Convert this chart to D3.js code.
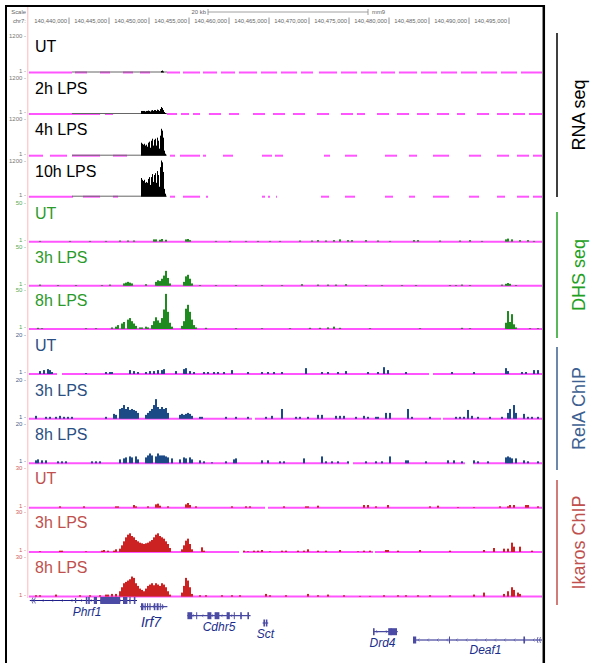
<!DOCTYPE html>
<html><head><meta charset="utf-8">
<script src="https://cdn.jsdelivr.net/npm/d3@7"></script>
<style>body{margin:0;background:#fff}svg{display:block}</style>
</head><body>
<script>
// ---------------- DATA ----------------
// genomic positions are kb offsets from chr7:140,435,000
const chromStart = 140435000;
const viewEndKb = 64.125;
const coordTicks = [140440000,140445000,140450000,140455000,140460000,140465000,140470000,140475000,140480000,140485000,140490000,140495000];
const scaleBarKb = 20;
const scaleBarStartKb = 22.375;

const trackLabels = ["UT","2h LPS","4h LPS","10h LPS","UT","3h LPS","8h LPS","UT","3h LPS","8h LPS","UT","3h LPS","8h LPS"];
const trackGroups = ["rna","rna","rna","rna","dhs","dhs","dhs","rela","rela","rela","ik","ik","ik"];
const groupNames = ["RNA seq","DHS seq","RelA ChIP","Ikaros ChIP"];
const groupMax = {rna:1200, dhs:50, rela:20, ik:30};
const groupBinKb = {rna:0.125, dhs:0.25, rela:0.25, ik:0.25};

// RNA-seq signal [kbOffset, value]
const rnaUT  = [[16.5,50],[16.625,65],[16.75,33]];
const rna2h  = [[14.0,100],[14.125,100],[14.25,100],[14.375,100],[14.5,80],[14.625,100],[14.75,100],[14.875,115],[15.0,100],[15.125,80],[15.25,115],[15.375,130],[15.5,100],[15.625,130],[15.75,130],[15.875,100],[16.0,145],[16.125,130],[16.25,100],[16.375,165],[16.5,230],[16.625,195],[16.75,130],[16.875,65],[17.0,33]];
const rna4h  = [[14.0,425],[14.125,390],[14.25,360],[14.375,390],[14.5,330],[14.625,360],[14.75,295],[14.875,425],[15.0,460],[15.125,260],[15.25,490],[15.375,555],[15.5,330],[15.625,520],[15.75,555],[15.875,330],[16.0,590],[16.125,490],[16.25,230],[16.375,655],[16.5,880],[16.625,820],[16.75,590],[16.875,165],[17.0,65]];
const rna10h = [[14.0,620],[14.125,560],[14.25,520],[14.375,560],[14.5,460],[14.625,490],[14.75,460],[14.875,590],[15.0,650],[15.125,390],[15.25,650],[15.375,750],[15.5,490],[15.625,720],[15.75,780],[15.875,460],[16.0,850],[16.125,720],[16.25,330],[16.375,980],[16.5,1200],[16.625,1140],[16.75,820],[16.875,260],[17.0,100]];
// low-coverage stretch shown as thin grey line
const rnaLow = [[5.375,17.25]];
// magenta baseline pieces of the RNA tracks
const rnaUTPink  = [[0,5.375],[5.75,7.25],[8.875,10.125],[11.75,13],[13.875,15.125],[17.25,18.875],[19.25,21.375],[21.75,23.5],[24,25.75],[26.25,28.5],[29,31],[31.5,33.5],[34,35.5],[36.25,38.5],[39,41],[41.5,43.5],[44,45.75],[46.25,48.5],[49,51],[51.5,53.5],[54,56],[56.5,58.5],[59,61],[61.5,64.125]];
const rna2hPink  = [[0,8.875],[9.5,10.5],[17.25,18.5],[19,20],[20.5,21.375],[22.5,24],[25,26.25],[28,29.5],[30.5,32],[33,34.5],[36,37.5],[39,40.5],[41,42],[43.5,45],[46,47.5],[48.5,50],[51,52.5],[53.5,54.5],[56,57.5],[58.5,60],[60.5,62],[62.5,64.125]];
const rna4hPink  = [[0,1.75],[2.625,4.75],[5.375,8.875],[10.5,12.25],[17.625,18.25],[18.875,21.375],[21.75,22.125],[24.25,25.5],[29.125,30.375],[30.75,31.75],[36.875,37.625],[39.5,41],[44.5,46],[47.5,48.5],[50.5,52.5],[55,56.5],[58.5,60],[61,62.5],[63,64.125]];
const rna10hPink = [[0,5.5],[6.75,8.875],[10.5,11.125],[17.625,18.25],[19.25,21.375],[22.125,22.375],[29.125,29.5],[29.875,30.125],[30.875,31.0],[36.5,37.5],[39.5,40.75],[44.5,45.5],[47.5,48.25],[50.5,52.5],[55,56.25],[58.5,59.5],[61,62.5],[63,64.125]];

// DHS-seq
const dhsUT = [[1.25,1],[5,1],[7.5,1],[9.5,1],[11.25,1.5],[12.25,1.5],[13,1.5],[15.5,3],[15.75,3],[16.25,2.5],[16.5,3.5],[17,2.5],[19.5,3],[19.75,3.5],[20,2],[23.25,1],[25,1],[27,1],[28.5,1],[30,1],[31.25,1],[33.75,1.5],[35.25,1.5],[36,2],[37,1.5],[38,2],[38.75,3],[39.75,2],[40.25,2],[42,2],[43.5,1.5],[45,1],[48,2],[48.5,2],[51.25,1.5],[53.75,1.5],[55,2],[56.5,1],[59.5,3],[59.75,4],[60.25,3],[61.25,2],[62.25,2],[63,1]];
const dhs3h = [[1.25,1.5],[3.5,1],[5.75,1],[9,1],[10,1.5],[11.75,3],[12,4],[12.25,5],[12.5,4],[12.75,3],[14.5,2],[15.75,5],[16,7],[16.25,6],[16.5,9],[16.75,13],[17,19],[17.25,10],[17.5,3],[19.25,5],[19.5,12],[19.75,14],[20,9],[20.25,3],[21.25,1],[23.25,1],[25.75,1],[29,1],[31.5,1],[34,2],[36,1.5],[37.25,1.5],[38.25,1.5],[39.5,2],[42,1],[44,1],[46.5,1],[48.25,1],[52.5,1],[53.25,1],[54,1.5],[55,1],[59,1.5],[59.5,2.5],[59.75,3.5],[60,2.5],[60.75,1]];
const dhs8h = [[1.0,1.5],[1.5,1],[7,1],[8.25,1],[10.25,2],[10.75,3],[11.0,5],[11.5,7],[11.75,9],[12.25,12],[12.5,14],[12.75,10],[13,7],[13.25,4],[13.75,2],[14.0,2],[14.5,3],[14.75,2],[15.25,5],[15.5,10],[15.75,15],[16.0,11],[16.25,8],[16.5,14],[16.75,25],[17.0,45],[17.25,22],[17.5,8],[17.75,3],[19.0,4],[19.25,10],[19.5,26],[19.75,31],[20.0,22],[20.25,12],[20.5,5],[20.75,2],[22,1.5],[25.75,1],[29.0,1],[32.5,1],[35.0,1.5],[36.25,1.5],[37.25,2],[38.0,3],[38.75,1.5],[42.5,1],[48.75,1],[54.0,1.5],[55.0,1],[59.5,8],[59.75,23],[60.0,9],[60.25,19],[60.5,6],[60.75,2],[62.5,1],[63.5,1]];

// RelA ChIP
const relaUT = [[1.25,1.5],[1.75,2],[2.25,2.5],[2.5,2],[2.75,1],[7,0.5],[9.5,1],[10,1],[10.25,1],[12.5,2],[13,1.5],[13.5,1],[14.5,1],[15,1.5],[15.5,1.5],[16,2],[16.5,2],[16.75,2.5],[18.25,1.5],[19.25,2.5],[19.5,3],[20,1.5],[20.5,1],[21.75,1],[22.25,1],[23,1],[23.5,1],[24.25,1],[25.25,2],[27.25,1],[29,1],[29.75,1],[30.5,1],[31.5,1],[34.5,3],[36.5,1],[37.25,1],[38.5,1],[39.5,1.5],[42.25,1],[43.5,1],[44.25,3.5],[44.75,2],[47,1],[52.75,1],[55.5,1],[59.5,3],[59.75,1.5],[61.5,1],[62,1],[63,2],[63.5,2]];
const rela3h = [[0.75,1.5],[2,1],[2.5,1],[3.25,1],[3.75,1.5],[4.25,1],[4.75,1],[5.25,1],[9.5,1],[10.5,2.5],[10.75,2],[11.25,5],[11.5,5.5],[11.75,7],[12,5],[12.25,6],[12.5,4.5],[12.75,5],[13,4.5],[13.25,4],[13.5,3],[14.5,2],[14.75,3],[15,4],[15.25,5],[15.5,7],[15.75,10],[16,6],[16.25,5],[16.5,6],[16.75,5],[17,5.5],[17.25,3],[18.75,2],[19,2.5],[19.25,2],[19.5,2.5],[19.75,3],[20,2.5],[20.25,1.5],[21.25,1],[21.5,1],[24.5,1],[25.75,1],[27.25,1],[29.5,1],[30.25,1.5],[31.5,5],[33.25,1],[33.75,1],[34.75,1],[36,2],[36.5,2],[38.25,1.5],[38.75,1.5],[39.25,1.5],[40.75,1],[41.75,1.5],[42.25,1],[43.25,1],[43.5,1],[44.5,3],[45,3],[47.25,5],[47.75,1],[50,1],[53.25,1],[53.75,1],[54.25,1],[54.75,4.5],[55.25,1.5],[56,1],[57.5,1],[59.0,1],[59.75,3],[60.0,5],[60.5,7],[60.75,3],[61.75,2.5],[62.25,1],[62.75,1],[63.5,1]];
const rela8h = [[0.75,1.5],[1,2],[1.5,1.5],[2,1.5],[3.5,1],[4,1],[4.5,1],[7.75,1],[8.25,1],[8.75,1],[11.25,2],[11.75,2.5],[12,3],[12.5,3.5],[12.75,3],[13.25,3.5],[13.5,2],[14.5,3],[14.75,4],[15,5],[15.25,4],[15.75,3.5],[16,5],[16.25,4],[16.5,4],[16.75,4],[17,3.5],[17.25,3],[17.75,2.5],[18.75,2],[19.25,3],[19.5,2.5],[20,3],[20.25,2],[21.25,1.5],[21.75,1],[22.75,0.5],[24.5,1],[25.5,2],[25.75,2.5],[29,1.5],[29.75,1.5],[31.25,1],[31.75,1],[34.25,2.5],[36.5,3.5],[37,1],[37.75,1],[38.5,1],[39.75,1],[42,1],[43.25,1],[44,1],[45,3.5],[47,1.5],[47.25,1.5],[49.5,1],[52.25,1.5],[53,1.5],[54,1],[55.5,1.5],[56,1],[57.25,1],[59.5,3],[59.75,3.5],[60,3],[60.25,2.5],[60.75,2.5],[61.75,1.5],[62.25,1],[63.5,1]];

// Ikaros ChIP
const ikUT = [[3.75,1],[6.75,1],[10.75,1],[11,1],[13,2],[13.25,1],[14.75,1],[15.75,2.5],[16,3],[16.25,1.5],[17.25,1],[19.5,2.5],[19.75,3.5],[20,2],[20.75,1],[25.25,1],[27,1],[27.5,1],[31.75,1],[34.5,1],[34.75,1],[36,1.5],[41.75,2],[42.25,2],[43.25,1],[44.75,2],[50,1],[51,1.5],[53.5,0.5],[55.5,0.5],[58.75,1],[59.75,1],[60,2],[60.5,2],[62,2],[62.25,2],[63.5,1]];
const ik3h = [[1.25,0.5],[3.75,1],[4,1],[7,0.5],[9,1],[9.25,1.5],[9.75,1],[10.5,1],[10.75,2],[11.25,2.5],[11.5,5],[11.75,8],[12,11],[12.25,13],[12.5,14],[12.75,12],[13,11],[13.25,9],[13.5,8],[13.75,7],[14,6.5],[14.25,6],[14.5,6.5],[14.75,7],[15,8],[15.25,9],[15.5,11],[15.75,13],[16,14],[16.25,12],[16.5,11],[16.75,10],[17,8],[17.25,6],[17.5,3],[19,2],[19.25,5],[19.5,8.5],[19.75,10],[20,6],[20.25,2],[21.5,3.5],[21.75,1],[26.75,1],[27.25,0.5],[28,1],[28.5,1],[29,1.5],[30,0.5],[31.5,1],[32,1],[33.5,1],[34.25,1],[34.75,2],[36,1],[37,1],[38.75,1.5],[41,0.5],[41.75,1],[42.5,1],[44.5,1.5],[44.75,1.5],[46,1],[48.75,1.5],[52.5,1],[56.75,1.5],[58,3],[59.25,2.5],[59.75,2.5],[60.25,7],[60.5,4],[61.25,4],[62.75,1]];
const ik8h = [[0.75,1],[1.25,1],[3.25,1.5],[6.25,1],[7.5,1],[8.75,1],[9.5,1.5],[9.75,1.5],[10.25,2],[10.75,2],[11.25,4],[11.5,7],[11.75,10],[12,11],[12.25,12],[12.5,13],[12.75,15],[13,14],[13.25,10],[13.5,8],[13.75,6],[14,5],[14.25,4],[14.5,6],[14.75,8],[15,9],[15.25,10],[15.5,8.5],[15.75,10],[16,9],[16.25,8],[16.5,10],[16.75,9],[17,7],[17.25,4],[17.5,1.5],[19,3],[19.25,8],[19.5,14],[19.75,12],[20,7],[20.25,2],[21.25,1],[22,1],[24,1],[25.25,1],[26.25,1],[29.5,2],[30,1],[32,1],[34.75,2],[36,1],[37.25,1.5],[39.25,1],[41.25,0.5],[42.5,0.5],[44.25,1],[46,1],[47,1],[48.5,1],[50,1],[52.5,1],[55.5,1.5],[56.75,3],[59.25,2],[59.75,4],[60.25,7],[60.5,5],[61,3],[61.25,2]];

// gaps in the magenta baseline for the DHS / ChIP tracks
const gapsDHS  = [[],[],[]];
const gapsRelA = [[[3.5,4.125],[50,50.5]],[[27.875,28.25],[51.5,51.75]],[[40,40.5],[54.5,55.5]]];
const gapsIk   = [[[29.5,29.875]],[[26.25,26.75],[43,43.25]],[]];

// genes: [start, end] in kb offset, exons [start,end,thick]; openStart/openEnd = continues beyond view
const genes = [
  {name:"Phrf1", start:0.1, end:13.5, strand:"+", openStart:true, exons:[[5.75,5.9,0],[7.1,7.3,1],[7.4,7.6,1],[8.1,8.5,1],[8.9,11.4,1],[11.75,12.3,1],[12.55,12.7,1],[13.1,13.3,1]]},
  {name:"Irf7",  start:13.9, end:17.3, strand:"+", exons:[[14.0,14.3,1],[14.45,14.6,1],[14.75,14.9,1],[15.05,15.2,1],[15.6,15.8,1],[15.95,16.2,1],[16.35,16.45,1],[16.6,16.7,0]]},
  {name:"Cdhr5", start:19.8, end:27.7, strand:"-", exons:[[19.8,20.4,1],[20.9,21.0,1],[22.3,22.8,1],[23.2,23.8,1],[24.7,25.1,1],[25.6,25.7,1],[26.4,26.6,1],[27.3,27.5,1]]},
  {name:"Sct",   start:29.2, end:29.9, strand:"-", exons:[[29.3,29.5,1],[29.6,29.8,1]]},
  {name:"Drd4",  start:43.0, end:46.1, strand:"+", exons:[[43.0,43.2,1],[44.9,46.0,1],[45.2,45.3,1]]},
  {name:"Deaf1", start:48.0, end:64.125, strand:"-", openEnd:true, exons:[[48.0,48.4,1],[52.5,52.6,1],[61.8,62.0,1]]}
];

// ---------------- LAYOUT ----------------
const W = 593, H = 663;
const trackTop  = [36,77.5,119,160.5, 203,246.5,290, 335,379.5,424, 467.5,512,556.5];
const trackBase = [72.5,114,155.7,196.7, 241.7,285.8,329, 374,418.8,463.3, 507.7,552,596.6];
const geneRowY = {Phrf1:600.5, Irf7:606.7, Cdhr5:615.7, Sct:623, Drd4:631.7, Deaf1:640};
const geneLabelPos = {Phrf1:[87,616,12], Irf7:[151,627,14], Cdhr5:[219,631,12], Sct:[265.5,638,12], Drd4:[382.5,647,12], Deaf1:[485.5,654,12]};
const groupBar = {rna:[33,197], dhs:[212,338], rela:[347,470], ik:[480,605]};
const col = {
  rna:{bar:"#000", label:"#000", axis:"#777", side:"#000"},
  dhs:{bar:"#1f8a1f", label:"#2a9a2a", axis:"#5a5", side:"#22a022"},
  rela:{bar:"#1c4a86", label:"#2a4f82", axis:"#4a5f8a", side:"#3d5f91"},
  ik:{bar:"#cc2222", label:"#c0504d", axis:"#d06060", side:"#c0504d"}
};
const pink = "#ff55ff";
const font = "Liberation Sans, Arial, sans-serif";

const svg = d3.select("body").append("svg").attr("width",W).attr("height",H).style("font-family",font);
const x = d3.scaleLinear().domain([0, viewEndKb]).range([29, 542]);

// frame
svg.append("line").attr("x1",6).attr("x2",6).attr("y1",5).attr("y2",H).attr("stroke","#000").attr("stroke-width",2);
svg.append("line").attr("x1",5).attr("x2",545).attr("y1",6).attr("y2",6).attr("stroke","#000").attr("stroke-width",2);
svg.append("line").attr("x1",543.8).attr("x2",543.8).attr("y1",5).attr("y2",H).attr("stroke","#000").attr("stroke-width",2.5);
// side pink separator
svg.append("line").attr("x1",27.8).attr("x2",27.8).attr("y1",7).attr("y2",598).attr("stroke","#ffb8b8").attr("stroke-width",1);

// scale header
const small = 5.9;
svg.append("text").attr("x",26).attr("y",14).attr("text-anchor","end").attr("font-size",small).attr("fill","#666").text("Scale");
svg.append("text").attr("x",26).attr("y",23).attr("text-anchor","end").attr("font-size",small).attr("fill","#666").text("chr7:");
const sb0 = x(scaleBarStartKb), sb1 = x(scaleBarStartKb+scaleBarKb);
svg.append("text").attr("x",sb0-2).attr("y",14).attr("text-anchor","end").attr("font-size",small).attr("fill","#666").text(scaleBarKb+" kb");
svg.append("path").attr("d",`M${sb0},9V15M${sb0},12H${sb1}M${sb1},9V15`).attr("stroke","#888").attr("fill","none").attr("stroke-width",0.8);
svg.append("text").attr("x",sb1+4).attr("y",14).attr("font-size",small).attr("fill","#666").text("mm9");
const fmt = d3.format(",");
coordTicks.forEach(t=>{
  const xx = x((t-chromStart)/1000);
  svg.append("line").attr("x1",xx).attr("x2",xx).attr("y1",17.5).attr("y2",24).attr("stroke","#777").attr("stroke-width",0.8);
  svg.append("text").attr("x",xx-2).attr("y",23).attr("text-anchor","end").attr("font-size",small).attr("fill","#666").text(fmt(t));
});

// tracks
const signals = [rnaUT,rna2h,rna4h,rna10h,dhsUT,dhs3h,dhs8h,relaUT,rela3h,rela8h,ikUT,ik3h,ik8h];
const rnaPinks = [rnaUTPink,rna2hPink,rna4hPink,rna10hPink];
const gaps = [null,null,null,null,...gapsDHS,...gapsRelA,...gapsIk];
function complement(g){ // intervals of the view not in gaps
  const out=[]; let s=0; g.slice().sort((a,b)=>a[0]-b[0]).forEach(([a,b])=>{out.push([s,a]); s=b;}); out.push([s,viewEndKb]); return out;
}
signals.forEach((data,i)=>{
  const grp = trackGroups[i], c = col[grp], bw = groupBinKb[grp];
  const y = d3.scaleLinear().domain([0, groupMax[grp]]).range([trackBase[i], trackTop[i]]);
  const g = svg.append("g");
  g.append("text").attr("x",26).attr("y",trackTop[i]+2).attr("text-anchor","end").attr("font-size",6).attr("fill",c.axis).text(groupMax[grp]+" -");
  g.append("text").attr("x",26).attr("y",trackBase[i]).attr("text-anchor","end").attr("font-size",6).attr("fill",c.axis).text("1 -");
  const segs = i<4 ? rnaPinks[i] : complement(gaps[i]);
  g.selectAll("line.pk").data(segs).join("line").attr("x1",d=>x(d[0])).attr("x2",d=>x(d[1]))
    .attr("y1",trackBase[i]).attr("y2",trackBase[i]).attr("stroke",pink).attr("stroke-width",2);
  if(i<4){
    g.selectAll("line.low").data(rnaLow).join("line").attr("x1",d=>x(d[0])).attr("x2",d=>x(d[1]))
      .attr("y1",trackBase[i]-0.5).attr("y2",trackBase[i]-0.5).attr("stroke","#666").attr("stroke-width",1);
  }
  g.selectAll("rect").data(data).join("rect")
    .attr("x",d=>x(d[0])).attr("width",d=>x(d[0]+bw)-x(d[0]))
    .attr("y",d=>y(d[1])).attr("height",d=>trackBase[i]-y(d[1])).attr("fill",c.bar);
  g.append("text").attr("x",35).attr("y",trackTop[i]+16).attr("font-size",16).attr("fill",c.label).text(trackLabels[i]);
});

// group side labels
const groups = ["rna","dhs","rela","ik"];
groups.forEach((gk,k)=>{
  const [a,b] = groupBar[gk];
  svg.append("line").attr("x1",557).attr("x2",557).attr("y1",a).attr("y2",b).attr("stroke",col[gk].side).attr("stroke-width",1.5);
  const cy=(a+b)/2;
  svg.append("text").attr("transform",`translate(585,${cy}) rotate(-90)`).attr("text-anchor","middle")
    .attr("font-size",18).attr("fill",col[gk].side).text(groupNames[k]);
});

// genes
const geneCol = "#1e1e88", exonCol="#4b4ba6";
genes.forEach(gn=>{
  const gy = geneRowY[gn.name];
  const g = svg.append("g");
  g.append("line").attr("x1",x(gn.start)).attr("x2",x(gn.end)).attr("y1",gy).attr("y2",gy).attr("stroke",geneCol).attr("stroke-width",1);
  const step = 1.2;
  for(let p=gn.start+0.6; p<gn.end-0.3; p+=step){
    const xx=x(p), d = gn.strand==="+"?1.5:-1.5;
    g.append("path").attr("d",`M${xx-d},${gy-1.5}L${xx},${gy}L${xx-d},${gy+1.5}`).attr("stroke",exonCol).attr("fill","none").attr("stroke-width",0.6);
  }
  g.selectAll("rect").data(gn.exons).join("rect")
    .attr("x",d=>x(d[0])).attr("width",d=>Math.max(1,x(d[1])-x(d[0])))
    .attr("y",d=>gy-(d[2]?3.5:2.5)).attr("height",d=>d[2]?7:5).attr("fill",exonCol);
  const openMark = (xx,dir)=>{
    [0,2.5].forEach(o=>g.append("path").attr("d",`M${xx+dir*(o+2)},${gy-3}Q${xx+dir*o},${gy} ${xx+dir*(o+2)},${gy+3}`)
      .attr("stroke",exonCol).attr("fill","none").attr("stroke-width",0.8));
  };
  if(gn.openStart) openMark(x(gn.start)+1,1);
  if(gn.openEnd) openMark(x(gn.end)-6,1);
  const [lx,ly,fs] = geneLabelPos[gn.name];
  svg.append("text").attr("x",lx).attr("y",ly).attr("text-anchor","middle").attr("font-style","italic")
    .attr("font-size",fs).attr("fill","#1a2d8c").text(gn.name);
});
</script>
</body></html>
